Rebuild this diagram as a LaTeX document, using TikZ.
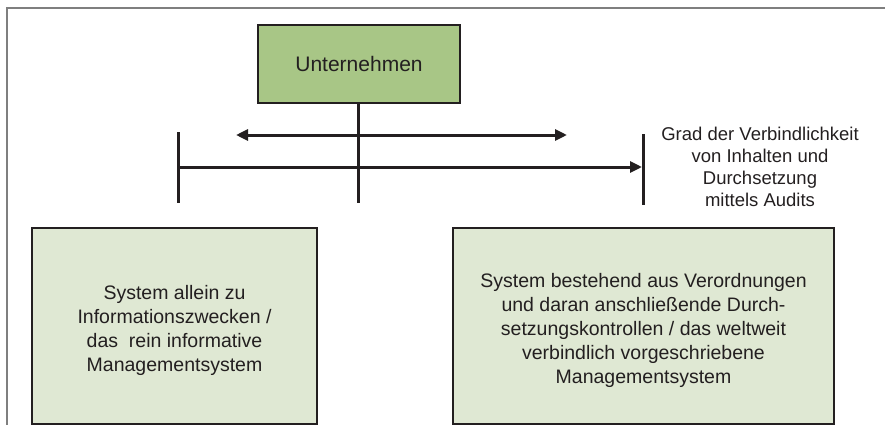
\documentclass[tikz,border=0pt]{standalone}
\usepackage{fontspec}
\setmainfont{Liberation Sans}
\usetikzlibrary{arrows.meta}
\definecolor{ink}{HTML}{231F20}
\definecolor{hdrgreen}{HTML}{A8C686}
\definecolor{boxgreen}{HTML}{DFE8D3}
\definecolor{framegray}{HTML}{7F7F7F}
\begin{document}
\begin{tikzpicture}[x=1pt,y=-1pt,
  topbox/.style={draw=ink, line width=2.5pt, fill=hdrgreen, minimum width=202pt, minimum height=78pt, inner sep=0pt, font=\fontsize{21}{25}\selectfont, text=ink},
  sysbox/.style={draw=ink, line width=2.5pt, fill=boxgreen, inner sep=0pt, align=center, text=ink, font=\fontsize{19.5}{24}\selectfont},
  axisline/.style={draw=ink, line width=3pt},
  tiparrow/.style={-{Triangle[length=12pt,width=11pt]}},
  bothtips/.style={{Triangle[length=12pt,width=11pt]}-{Triangle[length=12pt,width=11pt]}},
  notetext/.style={align=center, text=ink, inner sep=0pt, font=\fontsize{18.5}{22}\selectfont}]
\useasboundingbox (0,0) rectangle (885,425);
\clip (0,0) rectangle (885,425);
% frame
\draw[framegray, line width=1.5pt] (7,426) -- (7,8) -- (886,8);
% nodes
\node[topbox] (u) at (359,64) {Unternehmen};
\node[sysbox, minimum width=285pt, minimum height=196pt] (left) at (174.5,326)
  {\rule{0pt}{24pt}System allein zu\\Informationszwecken /\\das\ \ rein informative\\Managementsystem};
\node[sysbox, minimum width=381pt, minimum height=196pt] (right) at (643.5,326)
  {\rule{0pt}{24pt}System bestehend aus Verordnungen\\und daran anschließende Durch-\\setzungskontrollen / das weltweit\\verbindlich vorgeschriebene\\Managementsystem};
\node[notetext] (grad) at (760,167)
  {Grad der Verbindlichkeit\\von Inhalten und\\Durchsetzung\\mittels Audits};
% coordinates
\coordinate (vEnd) at (358,203);
\coordinate (lt1) at (178,132);
\coordinate (lt2) at (178,203);
\coordinate (rt1) at (643,134);
\coordinate (rt2) at (643,205);
\coordinate (aL) at (178,167);
\coordinate (aR) at (642,167);
\coordinate (dL) at (236,135);
\coordinate (dR) at (567,135);
% connectors
\draw[axisline] (u.south -| vEnd) -- (vEnd);
\draw[axisline] (lt1) -- (lt2);
\draw[axisline] (rt1) -- (rt2);
\draw[axisline, tiparrow] (aL) -- (aR);
\draw[axisline, bothtips] (dL) -- (dR);
\end{tikzpicture}
\end{document}
